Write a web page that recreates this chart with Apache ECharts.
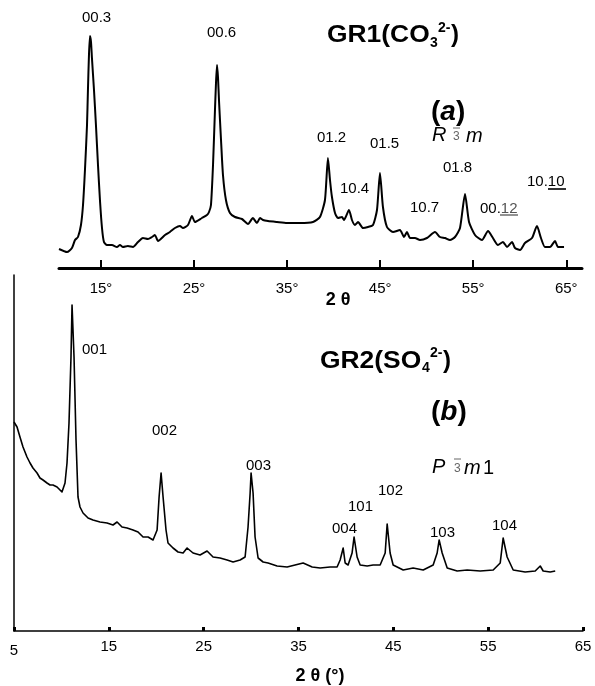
<!DOCTYPE html>
<html><head><meta charset="utf-8">
<script src="https://cdn.jsdelivr.net/npm/echarts@6/dist/echarts.min.js"></script>
<style>html,body{margin:0;padding:0;background:#fff}#c{width:595px;height:686px}</style>
</head><body><div id="c"></div>
<script>
// ---- data (a) GR1(CO3 2-) : 2theta (deg), intensity (a.u.)
const topTheta = [10.49,11.35,11.88,12.21,12.53,12.85,13.07,13.28,13.50,13.60,13.71,13.82,13.93,14.03,14.25,14.46,14.68,14.89,15.11,15.32,15.64,16.18,16.72,17.04,17.36,17.90,18.44,18.98,19.51,20.05,20.48,20.80,21.13,21.88,22.41,22.95,23.49,23.81,24.35,24.78,25.10,25.85,26.39,26.61,26.82,27.04,27.25,27.36,27.47,27.58,27.68,27.90,28.11,28.43,28.86,29.40,30.15,30.80,31.33,31.76,32.09,32.41,32.95,33.91,34.99,36.38,37.78,38.53,39.07,39.39,39.61,39.82,40.15,40.47,40.90,41.11,41.65,41.97,42.29,42.62,43.16,43.69,44.23,44.66,44.98,45.30,45.73,46.38,47.13,47.56,47.88,48.21,48.74,49.28,50.03,50.89,51.43,51.97,52.50,53.04,53.58,54.12,54.55,55.19,55.94,56.59,57.12,57.66,58.20,58.63,59.17,59.49,60.03,60.56,61.32,61.85,62.28,62.71,63.25,63.79,64.11,64.76];
const topIntensity = [19,16,20,28,31,43,63,98,143,178,213,232,226,210,178,143,103,68,40,26,23,23,21,23,21,22,21,26,30,29,31,33,27,33,36,40,42,40,43,52,46,50,53,56,63,103,158,185,203,190,168,128,93,68,55,51,49,44,50,45,50,48,47,46,45,45,46,51,68,110,88,71,55,50,51,48,58,48,43,46,40,41,43,58,95,61,41,36,38,31,36,30,30,28,30,36,31,30,28,31,40,74,46,33,28,37,30,23,26,21,26,20,18,25,30,42,30,21,21,27,21,21];
// ---- data (b) GR2(SO4 2-)
const botTheta = [5.00,5.32,5.63,5.95,6.37,6.69,7.00,7.43,7.74,8.06,8.48,8.80,9.11,9.54,10.06,10.38,10.59,10.80,11.01,11.12,11.33,11.54,11.75,11.96,12.28,12.81,13.33,14.07,14.81,15.44,15.87,16.39,16.92,17.55,18.08,18.61,19.14,19.66,20.09,20.30,20.51,20.72,21.03,21.24,21.77,22.30,22.83,23.25,23.88,24.62,25.36,25.99,26.73,27.47,28.10,28.84,29.37,29.68,29.90,30.00,30.21,30.42,30.74,31.27,31.79,32.74,33.80,34.64,35.49,36.44,37.28,38.33,39.07,39.39,39.71,39.92,40.23,40.65,40.86,41.18,41.50,42.24,42.87,43.61,44.14,44.35,44.66,44.98,46.04,47.09,48.15,49.20,49.62,49.83,50.15,50.68,51.73,52.79,54.16,55.53,56.27,56.58,57.00,57.64,58.90,59.96,60.49,60.80,61.54,62.07];
const botIntensity = [209,204,194,184,174,168,163,158,153,151,148,146,146,144,139,148,168,208,274,326,274,191,134,124,118,113,111,109,108,106,109,104,103,101,99,94,94,91,101,134,158,134,101,88,83,79,78,83,78,76,80,74,73,71,69,71,74,104,138,158,138,94,73,69,68,65,64,66,68,64,63,64,64,71,83,68,66,78,94,74,66,65,66,66,78,107,78,66,61,63,61,66,78,91,78,63,60,61,60,61,68,93,74,61,59,60,65,60,59,60];
// ---- tick labels
const topTicks = [15,25,35,45,55,65];
const botTicks = [5,15,25,35,45,55,65];
const topPeakLabels = ['00.3','00.6','01.2','10.4','01.5','10.7','01.8','00.','10.'];
const botPeakLabels = ['001','002','003','004','101','102','103','104'];

const FF = "'Liberation Sans', Arial, sans-serif";
const chart = echarts.init(document.getElementById('c'), null, {renderer:'canvas'});

function txt(x, y, s, font, opts) {
  opts = opts || {};
  return Object.assign({type:'text', x:x, y:y, silent:true,
    style: Object.assign({text:s, x:0, y:0, font:font, fill:'#000', align:opts.align||'left', verticalAlign:'middle'}, opts.style||{})}, opts.el||{});
}
function ln(x1,y1,x2,y2,w,c){return {type:'line',silent:true,shape:{x1:x1,y1:y1,x2:x2,y2:y2},style:{stroke:c||'#000',lineWidth:w}};}

const tp = topPeakLabels, bp = botPeakLabels;
const graphics = [
  // top peak labels
  txt(82,18,tp[0],'15px '+FF), txt(207,33,tp[1],'15px '+FF), txt(317,138,tp[2],'15px '+FF),
  txt(340,189,tp[3],'15px '+FF), txt(370,144,tp[4],'15px '+FF), txt(410,208,tp[5],'15px '+FF),
  txt(443,168,tp[6],'15px '+FF),
  {type:'text', x:480, y:209, silent:true, style:{text:'{a|00.}{b|12}', x:0,y:0, verticalAlign:'middle', rich:{a:{font:'15px '+FF, fill:'#000'}, b:{font:'15px '+FF, fill:'#555'}}}},
  ln(500,215,518,215,1.6,'#777'),
  {type:'text', x:527, y:182, silent:true, style:{text:'{a|10.}{b|10}', x:0,y:0, verticalAlign:'middle', rich:{a:{font:'15px '+FF, fill:'#000'}, b:{font:'15px '+FF, fill:'#000'}}}},
  ln(548,189,566,189,1.6,'#000'),
  // titles (a)
  txt(327,35,'GR1(CO','bold 24px '+FF,{el:{scaleX:1.1}}),
  txt(430,43,'3','bold 14px '+FF), txt(438,28,'2-','bold 14px '+FF), txt(451,35,')','bold 24px '+FF),
  {type:'text', x:431, y:112, silent:true, style:{text:'{n|(}{i|a}{n|)}', x:0,y:0, verticalAlign:'middle', rich:{n:{font:'bold 28px '+FF, fill:'#000'}, i:{font:'italic bold 28px '+FF, fill:'#000'}}}},
  txt(432,135,'R','italic 20px '+FF), txt(453,137,'3','12px '+FF,{style:{fill:'#666'}}), ln(453,128,460,128,1,'#666'),
  txt(466,136,'m','italic 20px '+FF),
  txt(338,300,'2 θ','bold 18px '+FF,{align:'center'}),
  // bottom peak labels
  txt(82,350,bp[0],'15px '+FF), txt(152,431,bp[1],'15px '+FF), txt(246,466,bp[2],'15px '+FF),
  txt(332,529,bp[3],'15px '+FF), txt(348,507,bp[4],'15px '+FF), txt(378,491,bp[5],'15px '+FF),
  txt(430,533,bp[6],'15px '+FF), txt(492,526,bp[7],'15px '+FF),
  // titles (b)
  txt(320,361,'GR2(SO','bold 24px '+FF,{el:{scaleX:1.1}}),
  txt(422,368,'4','bold 14px '+FF), txt(430,353,'2-','bold 14px '+FF), txt(443,361,')','bold 24px '+FF),
  {type:'text', x:431, y:412, silent:true, style:{text:'{n|(}{i|b}{n|)}', x:0,y:0, verticalAlign:'middle', rich:{n:{font:'bold 28px '+FF, fill:'#000'}, i:{font:'italic bold 28px '+FF, fill:'#000'}}}},
  txt(432,467,'P','italic 20px '+FF), txt(454,469,'3','12px '+FF,{style:{fill:'#666'}}), ln(454,459,461,459,1,'#666'),
  txt(464,468,'m','italic 20px '+FF), txt(483,468,'1','20px '+FF),
  txt(320,676,'2 θ (°)','bold 18px '+FF,{align:'center'})
];

const option = {
  animation:false,
  backgroundColor:'#fff',
  grid:[
    {left:59, top:0, width:523, height:268},
    {left:14, top:275, width:569, height:356}
  ],
  xAxis:[
    {type:'value', gridIndex:0, min:10.49, max:66.69, splitLine:{show:false},
     axisLine:{show:true, onZero:false, lineStyle:{color:'#000', width:3}},
     axisTick:{show:true, inside:true, length:8, customValues:topTicks, lineStyle:{color:'#000', width:2}},
     axisLabel:{customValues:topTicks, formatter:v=>v+'°', margin:13, color:'#000', fontSize:15, fontFamily:FF}},
    {type:'value', gridIndex:0, min:10.49, max:66.69, splitLine:{show:false},
     axisLine:{show:false, onZero:false},
     axisTick:{show:true, inside:false, length:10, customValues:topTicks, lineStyle:{color:'#000', width:2}},
     axisLabel:{show:false}},
    {type:'value', gridIndex:1, min:5, max:65, splitLine:{show:false},
     axisLine:{show:true, onZero:false, lineStyle:{color:'#000', width:1.5}},
     axisTick:{show:true, inside:true, length:4, customValues:botTicks, lineStyle:{color:'#000', width:3}},
     axisLabel:{customValues:botTicks, formatter:v=> v===5 ? '{lo|5}' : String(v), margin:8, color:'#000', fontSize:15, fontFamily:FF,
       rich:{lo:{fontSize:15, fontFamily:FF, color:'#000', padding:[4,0,0,0]}}}}
  ],
  yAxis:[
    {type:'value', gridIndex:0, min:0, max:268, show:false},
    {type:'value', gridIndex:1, min:0, max:356, splitLine:{show:false},
     axisLine:{show:true, onZero:false, lineStyle:{color:'#000', width:1.5}},
     axisTick:{show:false}, axisLabel:{show:false}}
  ],
  series:[
    {type:'line', xAxisIndex:0, yAxisIndex:0, data:topTheta.map((t,i)=>[t, topIntensity[i]]),
     showSymbol:false, smooth:0.2, lineStyle:{color:'#000', width:2, join:'round'}, silent:true},
    {type:'line', xAxisIndex:2, yAxisIndex:1, data:botTheta.map((t,i)=>[t, botIntensity[i]]),
     showSymbol:false, smooth:false, lineStyle:{color:'#000', width:1.6, join:'round'}, silent:true}
  ],
  graphic: graphics
};
chart.setOption(option);
</script></body></html>
